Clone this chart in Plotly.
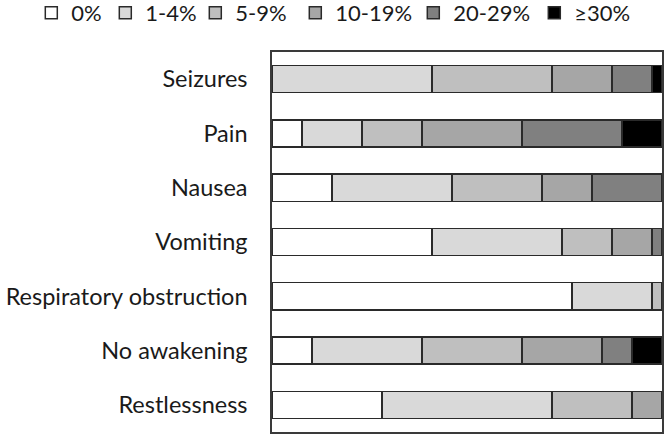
import plotly.graph_objects as go

categories = ["Seizures", "Pain", "Nausea", "Vomiting", "Respiratory obstruction", "No awakening", "Restlessness"]
series_names = ["0%", "1-4%", "5-9%", "10-19%", "20-29%", "≥30%"]
pct_0 = [0, 3, 6, 16, 30, 4, 11]
pct_1_4 = [16, 6, 12, 13, 8, 11, 17]
pct_5_9 = [12, 6, 9, 5, 1, 10, 8]
pct_10_19 = [6, 10, 5, 4, 0, 8, 3]
pct_20_29 = [4, 10, 7, 1, 0, 3, 0]
pct_30 = [1, 4, 0, 0, 0, 3, 0]
colors = ["#ffffff", "#d9d9d9", "#bfbfbf", "#a6a6a6", "#808080", "#000000"]
legend_widths = [29, 45, 55, 73, 76, 60]

series = [pct_0, pct_1_4, pct_5_9, pct_10_19, pct_20_29, pct_30]
total = sum(s[0] for s in series)

fig = go.Figure()
for name, vals, col, lw in zip(series_names, series, colors, legend_widths):
    fig.add_trace(go.Bar(
        y=categories,
        x=[v if v else None for v in vals],
        name=name,
        orientation="h",
        legendwidth=lw,
        marker=dict(color=col, line=dict(color="#2a2a2a", width=1.5)),
    ))

FONT = "Lato, Carlito, Calibri, sans-serif"
L, R, T, B, W, H = 272, 6, 52, 4, 668, 436
pw, ph = W - L - R, H - T - B
fig.update_layout(
    barmode="stack",
    bargap=0.5,
    width=W,
    height=H,
    margin=dict(l=L, r=R, t=T, b=B, autoexpand=False),
    paper_bgcolor="white",
    plot_bgcolor="white",
    font=dict(family=FONT, size=23.5, color="#1a1a1a"),
    legend=dict(
        orientation="h",
        traceorder="normal",
        xref="paper", yref="paper",
        x=(31.3 - L) / pw, xanchor="left",
        y=1 + (T + 8) / ph, yanchor="top",
        font=dict(size=22),
        itemwidth=30,
        tracegroupgap=0,
        bgcolor="rgba(0,0,0,0)",
    ),
    showlegend=True,
)
fig.update_xaxes(range=[0, total], showticklabels=False, showgrid=False, zeroline=False,
                 showline=True, mirror=True, linecolor="#3a3a3a", linewidth=1.5, ticks="")
fig.update_yaxes(autorange="reversed", showgrid=False, zeroline=False,
                 showline=True, mirror=True, linecolor="#3a3a3a", linewidth=1.5,
                 ticks="", ticklabelstandoff=18)

fig.write_html("out.html", config={"displayModeBar": False},
               post_script="document.body.style.margin='0';")
